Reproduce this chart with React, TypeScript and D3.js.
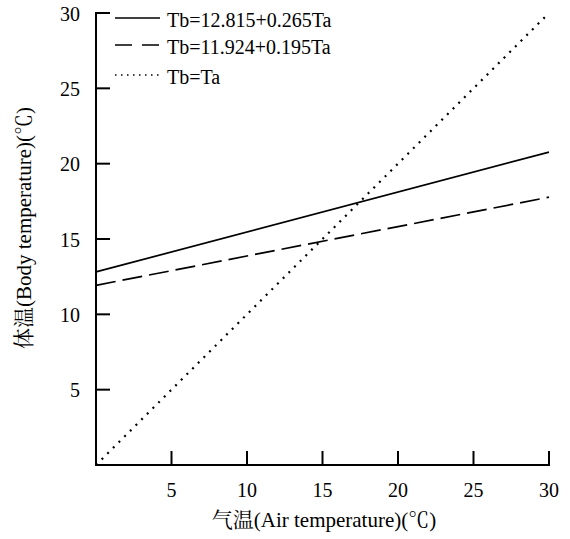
import * as d3 from 'd3';

const xTicks = [5, 10, 15, 20, 25, 30];
const yTicks = [5, 10, 15, 20, 25, 30];
const taRange = [0, 30];
const series = [
  { label: 'Tb=12.815+0.265Ta', a: 12.815, b: 0.265, kind: 'solid' },
  { label: 'Tb=11.924+0.195Ta', a: 11.924, b: 0.195, kind: 'dash' },
  { label: 'Tb=Ta', a: 0, b: 1, kind: 'dot' },
];

const FONT = '"Liberation Serif", "Noto Serif CJK SC", serif';

export default function App() {
  const x = d3.scaleLinear().domain([0, 30]).range([96, 549]);
  const y = d3.scaleLinear().domain([0, 30]).range([465, 13]);
  // legend rows: line y, text baseline
  const legendLine = [18, 45, 75];
  const legendText = [27, 54, 84];

  return (
    <svg
      width={570}
      height={539}
      style={{ position: 'absolute', left: 0, top: 0, background: '#fff', fontFamily: FONT }}
    >
      {series.map((s) => {
        const ln = d3
          .line<number>()
          .x((d) => x(d))
          .y((d) => y(s.a + s.b * d));
        return (
          <path
            key={s.label}
            d={ln(taRange) as string}
            fill="none"
            stroke="#000"
            strokeWidth={s.kind === 'dot' ? 2.2 : 1.7}
            strokeDasharray={s.kind === 'dash' ? '20,7' : s.kind === 'dot' ? '2,6' : undefined}
          />
        );
      })}

      {/* x axis */}
      <line x1={x(0)} x2={x(30) + 1} y1={y(0)} y2={y(0)} stroke="#000" strokeWidth={2} />
      {xTicks.map((t) => (
        <g key={t} transform={`translate(${x(t)},${y(0)})`}>
          <line y1={0} y2={-14} stroke="#000" strokeWidth={2} />
          <text y={32} textAnchor="middle" style={{ fontFamily: FONT, fontSize: 20 }}>
            {t}
          </text>
        </g>
      ))}

      {/* y axis */}
      <line x1={x(0)} x2={x(0)} y1={y(30) - 1} y2={y(0) + 1} stroke="#000" strokeWidth={2} />
      {yTicks.map((t) => (
        <g key={t} transform={`translate(${x(0)},${y(t)})`}>
          <line x1={0} x2={14} stroke="#000" strokeWidth={2} />
          <text x={-16} dy="0.38em" textAnchor="end" style={{ fontFamily: FONT, fontSize: 20 }}>
            {t}
          </text>
        </g>
      ))}

      {/* legend */}
      {series.map((s, i) => (
        <g key={s.label}>
          <line
            x1={115}
            x2={160}
            y1={legendLine[i]}
            y2={legendLine[i]}
            stroke="#000"
            strokeWidth={s.kind === 'dot' ? 1.6 : 1.5}
            strokeDasharray={s.kind === 'dot' ? '1.5,4.5' : s.kind === 'dash' ? '17,10' : undefined}
          />
          <text x={167} y={legendText[i]} style={{ fontFamily: FONT, fontSize: 20 }}>
            {s.label}
          </text>
        </g>
      ))}

      <text x={324} y={527} textAnchor="middle" style={{ fontFamily: FONT, fontSize: 21 }}>
        气温(Air temperature)(℃)
      </text>
      <text
        transform="translate(31,228) rotate(-90)"
        textAnchor="middle"
        style={{ fontFamily: FONT, fontSize: 21 }}
      >
        体温(Body temperature)(℃)
      </text>
    </svg>
  );
}
